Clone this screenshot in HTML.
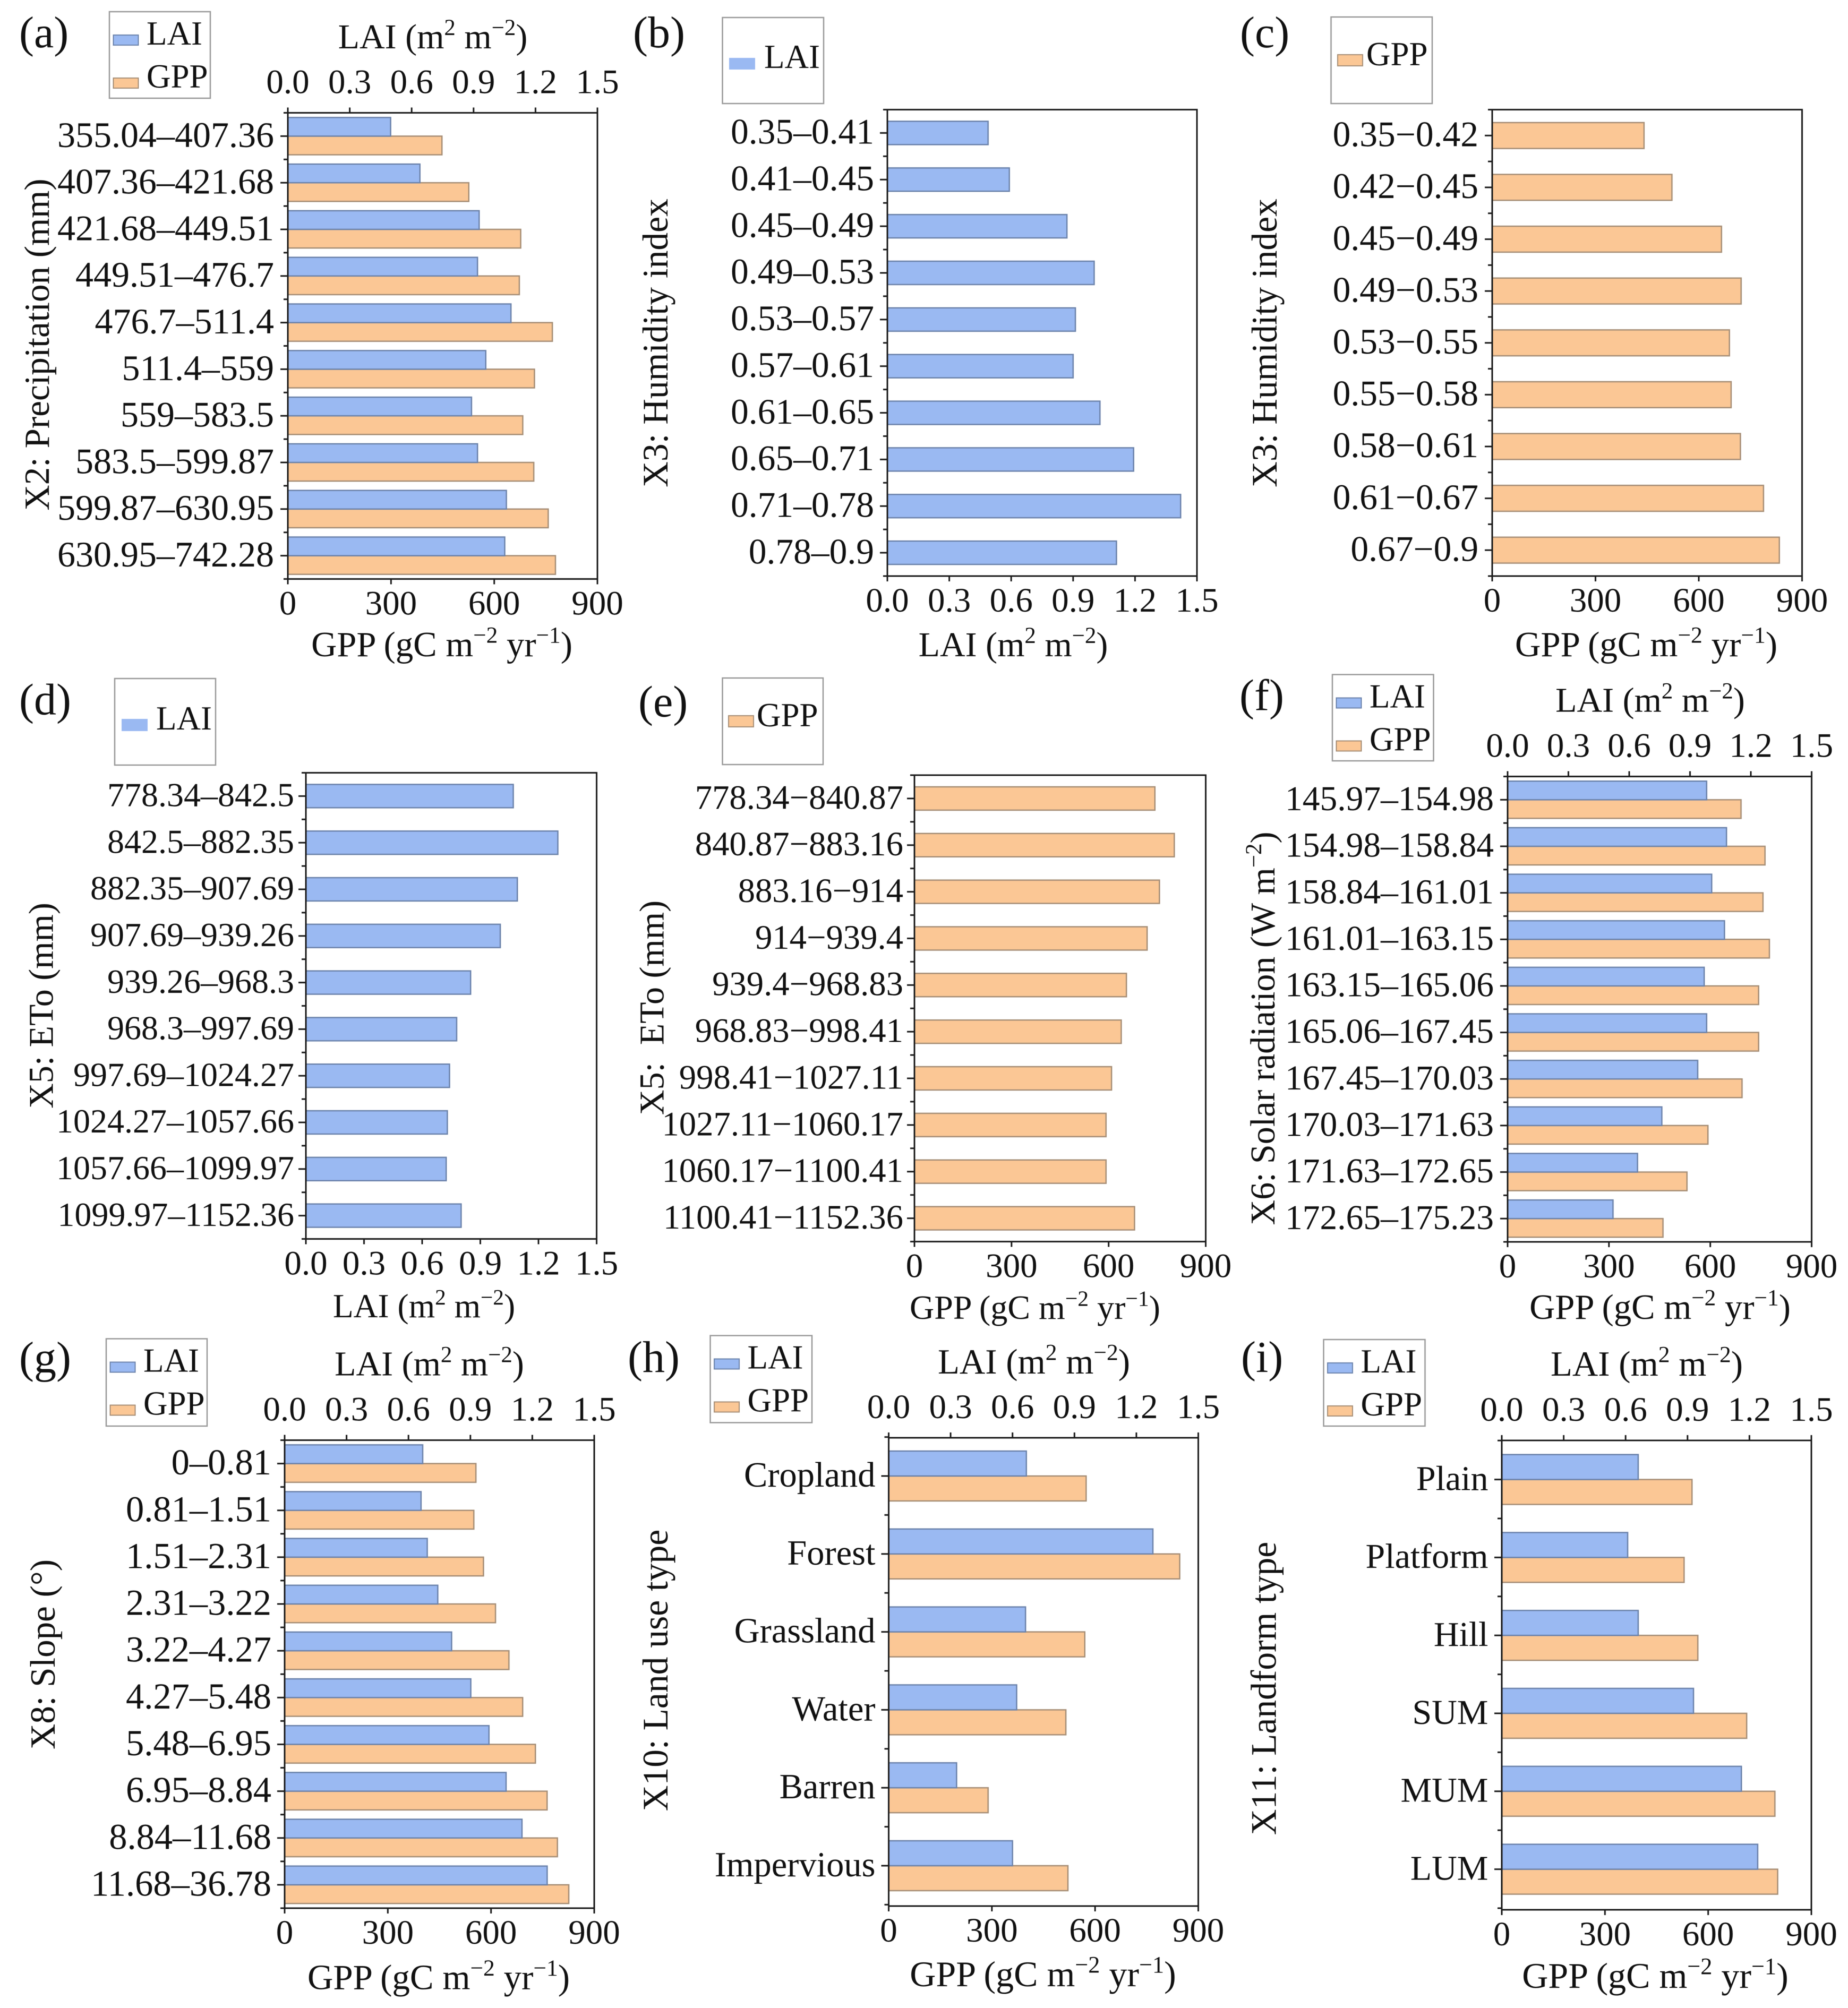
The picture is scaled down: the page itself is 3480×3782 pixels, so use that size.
<!DOCTYPE html>
<html lang="en">
<head>
<meta charset="utf-8">
<title>LAI and GPP by driver class</title>
<style>
html,body{margin:0;padding:0;background:#fff;}
svg{display:block;filter:blur(0.7px);}
text{font-family:"Liberation Serif","DejaVu Serif",serif;fill:#111;white-space:pre;}
</style>
</head>
<body>
<svg id="chart" xmlns="http://www.w3.org/2000/svg" width="3480" height="3782" viewBox="0 0 3480 3782">
<rect x="0" y="0" width="3480" height="3782" fill="#ffffff"/>
</svg>
<script>
// ---- data ----
const catsA = ["355.04–407.36","407.36–421.68","421.68–449.51","449.51–476.7","476.7–511.4","511.4–559","559–583.5","583.5–599.87","599.87–630.95","630.95–742.28"];
const laiA = [0.498,0.64,0.927,0.919,1.081,0.959,0.89,0.919,1.059,1.051];
const gppA = [448,526,677,673,769,717,683,715,757,778];

const catsB = ["0.35–0.41","0.41–0.45","0.45–0.49","0.49–0.53","0.53–0.57","0.57–0.61","0.61–0.65","0.65–0.71","0.71–0.78","0.78–0.9"];
const laiB = [0.488,0.591,0.87,1.002,0.911,0.9,1.03,1.193,1.421,1.11];

const catsC = ["0.35−0.42","0.42−0.45","0.45−0.49","0.49−0.53","0.53−0.55","0.55−0.58","0.58−0.61","0.61−0.67","0.67−0.9"];
const gppC = [441,522,666,723,689,694,721,788,834];

const catsD = ["778.34–842.5","842.5–882.35","882.35–907.69","907.69–939.26","939.26–968.3","968.3–997.69","997.69–1024.27","1024.27–1057.66","1057.66–1099.97","1099.97–1152.36"];
const laiD = [1.07,1.30,1.091,1.003,0.85,0.778,0.741,0.73,0.724,0.801];

const catsE = ["778.34−840.87","840.87−883.16","883.16−914","914−939.4","939.4−968.83","968.83−998.41","998.41−1027.11","1027.11−1060.17","1060.17−1100.41","1100.41−1152.36"];
const gppE = [743,803,757,719,655,639,609,592,592,680];

const catsF = ["145.97–154.98","154.98–158.84","158.84–161.01","161.01–163.15","163.15–165.06","165.06–167.45","167.45–170.03","170.03–171.63","171.63–172.65","172.65–175.23"];
const laiF = [0.982,1.08,1.007,1.07,0.97,0.982,0.938,0.761,0.641,0.52];
const gppF = [691,762,756,775,743,743,694,593,531,460];

const catsG = ["0–0.81","0.81–1.51","1.51–2.31","2.31–3.22","3.22–4.27","4.27–5.48","5.48–6.95","6.95–8.84","8.84–11.68","11.68–36.78"];
const laiG = [0.669,0.661,0.691,0.742,0.809,0.902,0.99,1.073,1.15,1.272];
const gppG = [556,550,578,613,652,692,729,763,793,826];

const catsH = ["Cropland","Forest","Grassland","Water","Barren","Impervious"];
const laiH = [0.667,1.28,0.663,0.62,0.329,0.6];
const gppH = [574,846,570,515,289,521];

const catsI = ["Plain","Platform","Hill","SUM","MUM","LUM"];
const laiI = [0.661,0.61,0.661,0.929,1.161,1.24];
const gppI = [553,530,570,712,794,802];

const gppTicks = [0,300,600,900];
const gppTickLabels = ["0","300","600","900"];
const laiTicks = [0,0.3,0.6,0.9,1.2,1.5];
const laiTickLabels = ["0.0","0.3","0.6","0.9","1.2","1.5"];
const GPP_MAX = 900;
const LAI_MAX = 1.5;

const gppTitle = [["GPP (gC m",0],["−2",1],[" yr",0],["−1",1],[")",0]];
const laiTitle = [["LAI (m",0],["2",1],[" m",0],["−2",1],[")",0]];

// ---- panel layout ----
const panels = [
 {tag:"(a)",lx:36,ly:89,x0:542,x1:1125,y0:212.5,y1:1090.5,cats:catsA,lai:laiA,gpp:gppA,frac:0.4,fs:68,lab:26,ytf:67,bf:66.7,tf:66,
  yt:[["X2: Precipitation (mm)",0]],ytx:92,yty:649,bt:[832,1236],tt:[815,91],lg:[206,22,396,185]},
 {tag:"(b)",lx:1192,ly:89,x0:1671,x1:2254,y0:206.5,y1:1085,cats:catsB,lai:laiB,frac:0.5,fs:67.5,lab:25,ytf:67.5,bf:66,
  yt:[["X3: Humidity index",0]],ytx:1257,yty:646,bt:[1908,1236],lg:[1360.5,33,1551,195],single:{sx:1374,sy:110,sh:20,tx:1439,ty:128}},
 {tag:"(c)",lx:2335,ly:89,x0:2810,x1:3393.5,y0:206.5,y1:1085,cats:catsC,gpp:gppC,frac:0.5,fs:67.5,lab:26,ytf:67.5,bf:67,
  yt:[["X3: Humidity index",0]],ytx:2404,yty:646,bt:[3100,1236],lg:[2506.5,32,2697,195],single:{sx:2519,sy:103,sh:21,tx:2573,ty:123}},
 {tag:"(d)",lx:36,ly:1345.5,x0:576,x1:1123.5,y0:1455.5,y1:2333.5,cats:catsD,lai:laiD,frac:0.5,fs:64,lab:22,ytf:66,bf:63.5,
  yt:[["X5: ETo (mm)",0]],ytx:99.5,yty:1894,bt:[798.5,2481],lg:[216,1278,406,1441],single:{sx:230,sy:1355,sh:21,tx:294,ty:1374}},
 {tag:"(e)",lx:1202,ly:1349.5,x0:1722,x1:2270.5,y0:1460,y1:2338.5,cats:catsE,gpp:gppE,frac:0.5,fs:64.7,lab:21,ytf:66,bf:64,
  yt:[["X5:  ETo (mm)",0]],ytx:1249.5,yty:1898,bt:[1949,2484],lg:[1360.5,1277,1550,1440],single:{sx:1372,sy:1348,sh:21,tx:1425,ty:1368}},
 {tag:"(f)",lx:2334,ly:1337.5,x0:2839,x1:3411.5,y0:1462.5,y1:2339,cats:catsF,lai:laiF,gpp:gppF,frac:0.4,fs:65.5,lab:26,ytf:66,bf:66.7,tf:66,
  yt:[["X6: Solar radiation (W m",0],["−2",1],[")",0]],ytx:2400,yty:1937,bt:[3126,2484],tt:[3107.5,1340.5],lg:[2509,1270.5,2699.5,1433]},
 {tag:"(g)",lx:36,ly:2585,x0:536,x1:1119,y0:2712.5,y1:3594,cats:catsG,lai:laiG,gpp:gppG,frac:0.4,fs:68.5,lab:25,ytf:67,bf:67,tf:66,
  yt:[["X8: Slope (°)",0]],ytx:103,yty:3116,bt:[826,3746.5],tt:[808.5,2590.5],lg:[200,2521.5,390,2686]},
 {tag:"(h)",lx:1182,ly:2584,x0:1673.5,x1:2256.5,y0:2708,y1:3590,cats:catsH,lai:laiH,gpp:gppH,frac:0.32,fs:66.5,lab:25,ytf:67.5,bf:68,tf:67,cy0:2780,cb:146.8,
  yt:[["X10: Land use type",0]],ytx:1257,yty:3146,bt:[1964,3741],tt:[1947,2587],lg:[1337.5,2515.5,1529,2679.5]},
 {tag:"(i)",lx:2337,ly:2584,x0:2828,x1:3411,y0:2713,y1:3597,cats:catsI,lai:laiI,gpp:gppI,frac:0.32,fs:66,lab:25.5,ytf:67.5,bf:68,tf:67,cy0:2786.6,cb:146.8,
  yt:[["X11: Landform type",0]],ytx:2402.5,yty:3180,bt:[3117,3744],tt:[3101,2591],lg:[2492.5,2523,2683.5,2686]}
];

const LAI_FILL = "#9ab9f2", LAI_EDGE = "#6c83ab";
const GPP_FILL = "#fbc795", GPP_EDGE = "#a68e76";
const AXIS = "#1c1c1c";
const NS = "http://www.w3.org/2000/svg";
const svg = document.getElementById("chart");

function mk(parent, tag, attrs){
  const n = document.createElementNS(NS, tag);
  for (const k in attrs) n.setAttribute(k, attrs[k]);
  parent.appendChild(n);
  return n;
}
function rich(node, segs, fs){
  let up = false;
  segs.forEach(function(s){
    const t = document.createElementNS(NS, "tspan");
    if (s[1]) { t.setAttribute("dy", -0.38*fs); t.setAttribute("font-size", 0.65*fs); up = true; }
    else if (up) { t.setAttribute("dy", 0.38*fs); up = false; }
    t.textContent = s[0];
    node.appendChild(t);
  });
}
function xPos(p, v, max){ return p.x0 + (v/max)*(p.x1-p.x0); }
function band(p){ return p.cb ? p.cb : (p.y1-p.y0)/p.cats.length; }
function yCenter(p, i){ return (p.cy0 ? p.cy0 : p.y0 + band(p)*0.5) + band(p)*i; }

function drawSeries(g, p, values, max, fill, edge, offset){
  values.forEach(function(v, i){
    const h = band(p)*p.frac;
    const r = mk(g, "rect", {x:p.x0, y:yCenter(p,i)+offset*h, width:xPos(p,v,max)-p.x0, height:h, fill:fill, stroke:edge, "stroke-width":2.5});
    
    
  });
}
function drawYAxis(g, p){
  const a = mk(g, "g", {});
  
  
  p.cats.forEach(function(c, i){
    const y = yCenter(p,i);
    const t = mk(a, "line", {x1:p.x0-14, x2:p.x0, y1:y, y2:y, stroke:AXIS, "stroke-width":3});
    
    
    const l = mk(a, "text", {x:p.x0-p.lab, y:y+0.30*p.fs, "text-anchor":"end", "font-size":p.fs});
    l.textContent = c;
    
    
  });
  for (let i=0;i<=p.cats.length;i++){
    const y = yCenter(p,i) - band(p)/2;
    const m = mk(a, "line", {x1:p.x0-8, x2:p.x0, y1:y, y2:y, stroke:AXIS, "stroke-width":3});
    
    
  }
  const ty = mk(a, "text", {transform:"translate("+p.ytx+" "+p.yty+") rotate(-90)", "text-anchor":"middle", "font-size":p.ytf});
  rich(ty, p.yt, p.ytf);
  
  
}
function drawXAxis(g, p, ticks, labels, max, top){
  const a = mk(g, "g", {});
  
  
  ticks.forEach(function(v, i){
    const x = xPos(p,v,max);
    const base = top ? p.y0 : p.y1;
    const t = mk(a, "line", {x1:x, x2:x, y1:base, y2:top ? base-10 : base+10, stroke:AXIS, "stroke-width":3});
    
    
    const l = mk(a, "text", {x:x, y:top ? p.y0-37 : p.y1+67, "text-anchor":"middle", "font-size":65});
    l.textContent = labels[i];
    
    
  });
}
function drawXTitle(g, pos, segs, fs){
  const t = mk(g, "text", {x:pos[0], y:pos[1], "text-anchor":"middle", "font-size":fs});
  rich(t, segs, fs);
  
  
}
function drawLegendEntry(lg, name, sx, sy, sh, tx, ty, fill, edge){
  const s = mk(lg, "rect", {x:sx, y:sy, width:47, height:sh, fill:fill, stroke:edge, "stroke-width":2});
  
  
  const t = mk(lg, "text", {x:tx, y:ty, "font-size":63});
  t.textContent = name;
  
  
}
function drawLegend(g, p){
  const b = p.lg;
  const lg = mk(g, "g", {});
  
  
  const box = mk(lg, "rect", {x:b[0], y:b[1], width:b[2]-b[0], height:b[3]-b[1], fill:"#fff", stroke:"#9a9a9a", "stroke-width":2.5});
  
  
  if (p.single){
    const q = p.single;
    if (p.lai) drawLegendEntry(lg, "LAI", q.sx, q.sy, q.sh, q.tx, q.ty, LAI_FILL, LAI_FILL);
    else drawLegendEntry(lg, "GPP", q.sx, q.sy, q.sh, q.tx, q.ty, GPP_FILL, GPP_EDGE);
  } else {
    drawLegendEntry(lg, "LAI", b[0]+7.5, b[1]+44, 19, b[0]+70, b[1]+62, LAI_FILL, LAI_EDGE);
    drawLegendEntry(lg, "GPP", b[0]+7.5, b[1]+125, 19, b[0]+70, b[1]+143, GPP_FILL, GPP_EDGE);
  }
}

panels.forEach(function(p){
  const g = mk(svg, "g", {});
  
  
  const lab = mk(g, "text", {x:p.lx, y:p.ly, "font-size":84});
  lab.textContent = p.tag;
  
  
  drawLegend(g, p);
  const both = p.lai && p.gpp;
  if (both){
    drawSeries(g, p, p.gpp, GPP_MAX, GPP_FILL, GPP_EDGE, 0);
    drawSeries(g, p, p.lai, LAI_MAX, LAI_FILL, LAI_EDGE, -1);
  } else if (p.lai){
    drawSeries(g, p, p.lai, LAI_MAX, LAI_FILL, LAI_EDGE, -0.5);
  } else {
    drawSeries(g, p, p.gpp, GPP_MAX, GPP_FILL, GPP_EDGE, -0.5);
  }
  const f = mk(g, "rect", {x:p.x0, y:p.y0, width:p.x1-p.x0, height:p.y1-p.y0, fill:"none", stroke:AXIS, "stroke-width":3});
  
  
  drawYAxis(g, p);
  if (both){
    drawXAxis(g, p, gppTicks, gppTickLabels, GPP_MAX, false);
    drawXAxis(g, p, laiTicks, laiTickLabels, LAI_MAX, true);
    drawXTitle(g, p.bt, gppTitle, p.bf);
    drawXTitle(g, p.tt, laiTitle, p.tf);
  } else if (p.lai){
    drawXAxis(g, p, laiTicks, laiTickLabels, LAI_MAX, false);
    drawXTitle(g, p.bt, laiTitle, p.bf);
  } else {
    drawXAxis(g, p, gppTicks, gppTickLabels, GPP_MAX, false);
    drawXTitle(g, p.bt, gppTitle, p.bf);
  }
});
</script>
</body>
</html>
